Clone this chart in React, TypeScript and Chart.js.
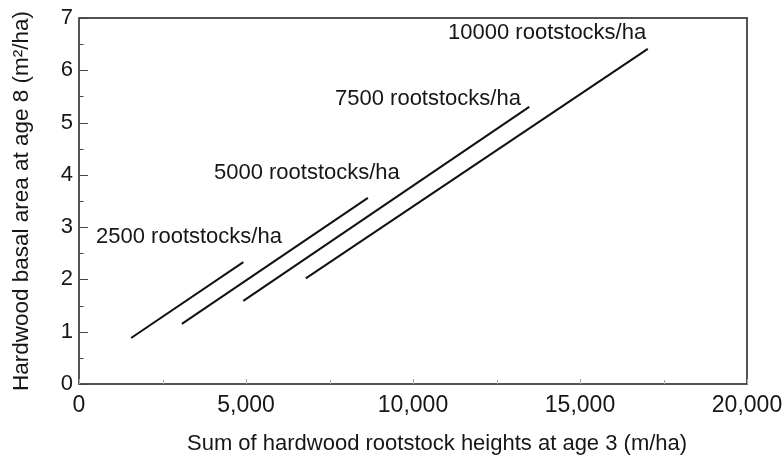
import React, { useEffect, useRef } from "react";
import { Chart, registerables } from "chart.js";

Chart.register(...registerables);

// Planting densities (one line each)
const densities = ["2500", "5000", "7500", "10000"];
// Line end points: sum of rootstock heights at age 3 (m/ha) and basal area at age 8 (m²/ha)
const xStart = [1560, 3080, 4920, 6790];
const yStart = [0.88, 1.15, 1.59, 2.02];
const xEnd = [4920, 8650, 13480, 17030];
const yEnd = [2.33, 3.56, 5.3, 6.41];

// Axis ranges / ticks
const xMin = 0;
const xMax = 20000;
const xStep = 5000;
const yMin = 0;
const yMax = 7;
const yStep = 1;

const xTitle = "Sum of hardwood rootstock heights at age 3 (m/ha)";
const yTitle = "Hardwood basal area at age 8 (m²/ha)";

// Label anchors (left edge / vertical middle) in data units
const labelX = [510, 4040, 7665, 11050];
const labelY = [2.81, 4.035, 5.45, 6.71];

const FONT = "'Liberation Sans', Arial, Helvetica, sans-serif";

const framePlugin = {
  id: "framePlugin",
  afterDatasetsDraw(chart: any) {
    const { ctx, chartArea, scales } = chart;
    const xs = scales.x;
    const ys = scales.y;
    ctx.save();
    // labels
    ctx.fillStyle = "#161616";
    ctx.font = `22px ${FONT}`;
    ctx.textAlign = "left";
    ctx.textBaseline = "middle";
    densities.forEach((d, i) => {
      ctx.fillText(`${d} rootstocks/ha`, xs.getPixelForValue(labelX[i]), ys.getPixelForValue(labelY[i]));
    });
    // x-axis title (offset right of centre, as in the original)
    ctx.textAlign = "center";
    const w = chartArea.right - chartArea.left;
    ctx.fillText(xTitle, chartArea.left + w * 0.536, chart.height - 18);
    // frame
    ctx.strokeStyle = "#2a2a2a";
    ctx.lineWidth = 1.6;
    ctx.strokeRect(chartArea.left, chartArea.top, chartArea.right - chartArea.left, chartArea.bottom - chartArea.top);
    // y ticks (inward, major + minor)
    ctx.lineWidth = 1;
    ctx.strokeStyle = "#444";
    for (let v = yMin; v <= yMax + 1e-9; v += yStep / 2) {
      const y = Math.round(ys.getPixelForValue(v)) + 0.5;
      const major = Math.abs(v - Math.round(v)) < 1e-9;
      const len = major ? 9 : 4.5;
      ctx.beginPath();
      ctx.moveTo(chartArea.left, y);
      ctx.lineTo(chartArea.left + len, y);
      ctx.stroke();
    }
    // x ticks (inward, faint)
    ctx.strokeStyle = "#aaa";
    for (let v = xMin; v <= xMax; v += xStep / 2) {
      const x = Math.round(xs.getPixelForValue(v)) + 0.5;
      const len = v % xStep === 0 ? 5 : 4;
      ctx.beginPath();
      ctx.moveTo(x, chartArea.bottom);
      ctx.lineTo(x, chartArea.bottom - len);
      ctx.stroke();
    }
    ctx.restore();
  },
};

export default function App() {
  const ref = useRef<HTMLCanvasElement>(null);

  useEffect(() => {
    document.body.style.margin = "0";
    if (!ref.current) return;
    const datasets = densities.map((d, i) => ({
      label: `${d} rootstocks/ha`,
      data: [
        { x: xStart[i], y: yStart[i] },
        { x: xEnd[i], y: yEnd[i] },
      ],
      showLine: true,
      borderColor: "#111",
      borderWidth: 2,
      pointRadius: 0,
      fill: false,
    }));
    const chart = new Chart(ref.current, {
      type: "scatter",
      data: { datasets },
      plugins: [framePlugin],
      options: {
        animation: false,
        responsive: false,
        layout: { padding: { left: 0, right: 37, top: 18, bottom: 0 } },
        plugins: { legend: { display: false }, tooltip: { enabled: false } },
        scales: {
          x: {
            type: "linear",
            min: xMin,
            max: xMax,
            grid: { display: false, drawTicks: false },
            border: { display: false },
            ticks: {
              stepSize: xStep,
              padding: 8,
              color: "#161616",
              font: { family: FONT, size: 23 },
              maxRotation: 0,
              callback: (v: any) => Number(v).toLocaleString("en-US"),
            },
            title: { display: false, text: xTitle },
            afterFit: (s: any) => {
              s.height = 78;
              s.paddingLeft = 0;
              s.paddingRight = 0;
            },
          },
          y: {
            type: "linear",
            min: yMin,
            max: yMax,
            grid: { display: false, drawTicks: false },
            border: { display: false },
            ticks: {
              stepSize: yStep,
              padding: 6,
              color: "#161616",
              font: { family: FONT, size: 22 },
            },
            title: {
              display: true,
              text: yTitle,
              color: "#161616",
              font: { family: FONT, size: 22.5 },
              padding: { top: 8, bottom: 0 },
            },
            afterFit: (s: any) => {
              s.width = 79;
              s.paddingTop = 0;
              s.paddingBottom = 0;
            },
          },
        },
      },
    });
    return () => chart.destroy();
  }, []);

  return (
    <div style={{ width: 784, height: 462, background: "#fff" }}>
      <canvas ref={ref} width={784} height={462} />
    </div>
  );
}
